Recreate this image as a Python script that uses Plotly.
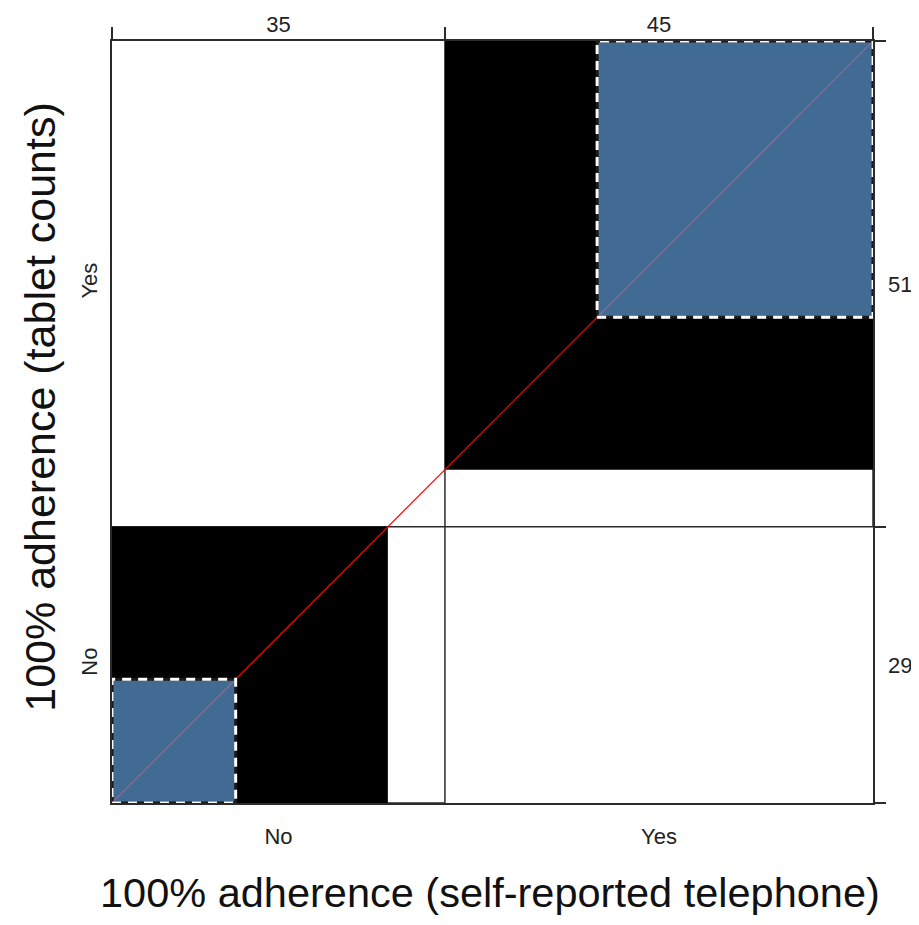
import plotly.graph_objects as go

# ---- data ----
categories = ["No", "Yes"]
col_totals = [35, 45]          # self-reported telephone (x)
row_totals = [29, 51]          # tablet counts (y)
diag_counts = [13, 29]         # exact agreement
partial_sizes = [29, 45]       # partial agreement squares
total = sum(col_totals)

# ---- derived positions ----
x_edges = [0]
for v in col_totals:
    x_edges.append(x_edges[-1] + v)
y_edges = [0]
for v in row_totals:
    y_edges.append(y_edges[-1] + v)
x_mid = [(x_edges[i] + x_edges[i + 1]) / 2 for i in range(len(col_totals))]
y_mid = [(y_edges[i] + y_edges[i + 1]) / 2 for i in range(len(row_totals))]

LINE = "#2b2b2b"
BLUE = "rgba(94,153,211,0.7)"

fig = go.Figure()

def rect(x0, y0, x1, y1, fill, line_color=None, line_width=0, dash=None):
    fig.add_trace(go.Scatter(
        x=[x0, x1, x1, x0, x0], y=[y0, y0, y1, y1, y0],
        mode="lines", fill="toself" if fill else None,
        fillcolor=fill,
        line=dict(color=line_color if line_color else "rgba(0,0,0,0)",
                  width=line_width, dash=dash),
        hoverinfo="skip", showlegend=False))

n = len(categories)
# white marginal rectangles
for i in range(n):
    rect(x_edges[i], y_edges[i], x_edges[i + 1], y_edges[i + 1], "white", LINE, 1.5)

# black partial-agreement squares (first anchored at origin, last at far corner)
for i in range(n):
    s = partial_sizes[i]
    if i == 0:
        x0, y0 = 0, 0
    else:
        x0, y0 = total - s, total - s
    rect(x0, y0, x0 + s, y0 + s, "black")

# diagonal reference line
fig.add_trace(go.Scatter(x=[0, total], y=[0, total], mode="lines",
                         line=dict(color="red", width=1.2),
                         hoverinfo="skip", showlegend=False))

# blue exact-agreement squares
for i in range(n):
    s = diag_counts[i]
    if i == 0:
        x0, y0 = 0, 0
    else:
        x0, y0 = total - s, total - s
    rect(x0, y0, x0 + s, y0 + s, BLUE, "#1a1a1a", 3)
    rect(x0, y0, x0 + s, y0 + s, None, "white", 3, "9px,7px")

font_family = "Liberation Sans, Arial, sans-serif"
tick_font = dict(family=font_family, size=22, color="#222222")

common = dict(showgrid=False, zeroline=False, automargin=False, range=[0, total])

fig.update_layout(
    width=911, height=917,
    margin=dict(l=104, r=46, t=33, b=122),
    paper_bgcolor="white", plot_bgcolor="white",
    showlegend=False,
    xaxis=dict(**common, tickvals=x_mid, ticktext=categories, ticks="",
               showline=True, linecolor=LINE, linewidth=1.5,
               tickfont=tick_font, ticklabelstandoff=13),
    xaxis2=dict(**common, overlaying="x", side="top", tickvals=x_mid,
                ticktext=[str(v) for v in col_totals], ticks="",
                tickfont=tick_font, ticklabelstandoff=4),
    xaxis3=dict(**common, overlaying="x", side="top", tickvals=x_edges,
                ticks="outside", ticklen=12, tickcolor=LINE, tickwidth=1.5,
                showticklabels=False, showline=True, linecolor=LINE, linewidth=1.5),
    yaxis=dict(**common, tickvals=y_mid, ticktext=categories, ticks="",
               tickangle=-90, showline=True, linecolor=LINE, linewidth=1.5,
               tickfont=tick_font, ticklabelstandoff=4),
    yaxis2=dict(**common, overlaying="y", side="right", tickvals=y_mid,
                ticktext=[str(v) for v in row_totals], ticks="",
                tickfont=tick_font, ticklabelstandoff=14),
    yaxis3=dict(**common, overlaying="y", side="right", tickvals=y_edges,
                ticks="outside", ticklen=11, tickcolor=LINE, tickwidth=1.5,
                showticklabels=False, showline=True, linecolor=LINE, linewidth=1.5),
    annotations=[
        dict(text="100% adherence (self-reported telephone)", xref="paper",
             yref="paper", x=0.497, y=-0.118, xanchor="center", yanchor="middle",
             showarrow=False, font=dict(family=font_family, size=41.5, color="#111111")),
        dict(text="100% adherence (tablet counts)", xref="paper", yref="paper",
             x=-0.0946, y=0.52, xanchor="center", yanchor="middle", textangle=-90,
             showarrow=False, font=dict(family=font_family, size=43, color="#111111")),
    ],
)

# dummy traces so overlay axes render
fig.add_trace(go.Scatter(x=[None], y=[None], xaxis="x2", yaxis="y2", showlegend=False))
fig.add_trace(go.Scatter(x=[None], y=[None], xaxis="x3", yaxis="y3", showlegend=False))

fig.write_html("out.html")
